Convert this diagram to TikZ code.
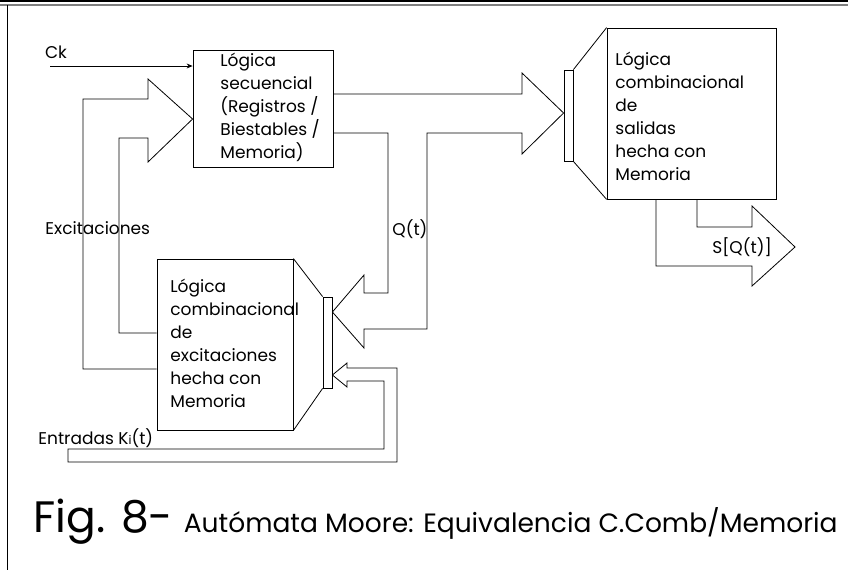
\documentclass[tikz,border=0pt]{standalone}
\usepackage{fontspec}
\setmainfont{Poppins}
\usetikzlibrary{arrows.meta,positioning,calc}

\begin{document}
\begin{tikzpicture}[x=1pt,y=-1pt,line width=0.8pt,
  blk/.style={draw,inner sep=0pt},
  txt/.style={font=\fontsize{17}{23}\selectfont,align=left,anchor=north west,inner sep=0pt},
  lbl/.style={font=\fontsize{17}{20}\selectfont,inner sep=0pt},
  bus/.style={draw,line join=miter}]
  \useasboundingbox (0,0) rectangle (848,570);
  % marco
  \draw[line width=2pt] (0,1) -- (848,1);
  \draw[gray,line width=1.5pt] (0,5) -- (848,5);
  \draw (7,5) -- (7,570);
  % bloques
  \node[blk,minimum width=140pt,minimum height=117pt] (seq) at (263,108.5) {};
  \node[blk,minimum width=136pt,minimum height=171pt] (exc) at (225,344.5) {};
  \node[blk,minimum width=169pt,minimum height=171pt] (out) at (691.5,113.5) {};
  \node[blk,minimum width=9pt,minimum height=91pt] (muxE) at (327.5,342.5) {};
  \node[blk,minimum width=9pt,minimum height=91pt] (muxS) at (568.5,115.5) {};
  \draw (exc.north east) -- (muxE.north west);
  \draw (exc.south east) -- (muxE.south west);
  \draw (muxS.north east) -- (out.north west);
  \draw (muxS.south east) -- (out.south west);
  % textos de los bloques
  \node[txt] (seqtxt) at (220,53) {Lógica\\secuencial\\(Registros /\\Biestables /\\Memoria)};
  \node[txt] (exctxt) at (170,279) {Lógica\\combinacional\\de\\excitaciones\\hecha con\\Memoria};
  \node[txt] (outtxt) at (615,52) {Lógica\\combinacional\\de\\salidas\\hecha con\\Memoria};
  % reloj
  \node[lbl] (ck) at (56,52) {Ck};
  \coordinate (ckin) at (50,66);
  \draw[-{Stealth[length=6pt,width=5pt]}] (ckin) -- (seq.west |- ckin);
  % buses
  \draw[bus] (exc.west |- 0,369) -| (83,99) -- (148,99) -- (148,79) -- (seq.west |- 0,119)
    -- (148,162) -- (148,138) -| (119,333) -- (exc.west |- 0,333);
  \draw[bus] (seq.east |- 0,94) -- (522,94) -- (522,73) -- (muxS.west |- 0,113) -- (522,154)
    -- (522,133) -| (427,329) -- (364,329) -- (364,348) -- (muxE.east |- 0,312) -- (364,275)
    -- (364,293) -| (388,133) -- (seq.east |- 0,133);
  \draw[bus] (out.south -| 656,0) -- (656,266) -- (752,266) -- (752,286) -- (795,247)
    -- (752,206) -- (752,227) -| (out.south -| 697,0);
  \draw[bus] (muxE.east |- 0,375) -- (347,363) -- (347,368) -| (397,462) -| (68,449)
    -| (384,381) -- (347,381) -- (347,387) -- cycle;
  % etiquetas
  \node[lbl,anchor=west] (exclbl) at (45,228) {Excitaciones};
  \node[lbl,anchor=west] (qlbl) at (392,229) {Q(t)};
  \node[lbl] (slbl) at (742,247) {S[Q(t)]};
  \node[lbl,anchor=west] (kilbl) at (38,438) {Entradas K{\fontsize{12}{12}\selectfont i}(t)};
  % pie
  \node[anchor=base west,inner sep=0pt,font=\fontsize{44}{44}\selectfont] (fig) at (33,532) {Fig. 8-};
  \node[inner sep=0pt,font=\fontsize{26.5}{28}\selectfont,right=10pt of fig.base east,anchor=base west] (cap)
    {Autómata Moore: Equivalencia C.Comb/Memoria};
\end{tikzpicture}
\end{document}
